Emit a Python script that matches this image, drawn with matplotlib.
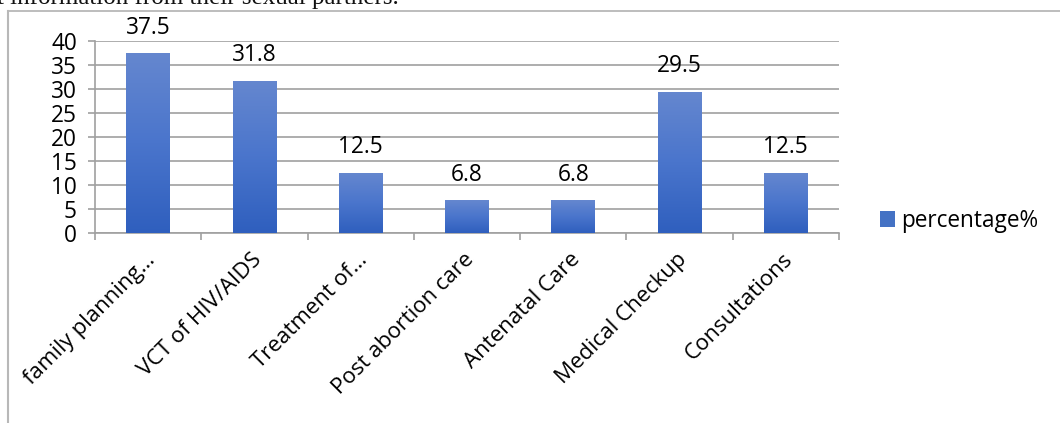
import matplotlib
matplotlib.use("Agg")
import matplotlib.pyplot as plt
import matplotlib.transforms as mtransforms
import numpy as np
from matplotlib.lines import Line2D
from matplotlib.patches import Patch
from matplotlib.colors import LinearSegmentedColormap

categories = ["family planning…", "VCT of HIV/AIDS", "Treatment of…", "Post abortion care",
              "Antenatal Care", "Medical Checkup", "Consultations"]
values = [37.5, 31.8, 12.5, 6.8, 6.8, 29.5, 12.5]
value_labels = ["37.5", "31.8", "12.5", "6.8", "6.8", "29.5", "12.5"]
yticks = [0, 5, 10, 15, 20, 25, 30, 35, 40]
series_name = "percentage%"
caption = "t information from their sexual partners."

W, H = 1060, 423
DPI = 100
FONT = "Open Sans"
FS = 16.3
GRID = "#a0a0a0"

fig = plt.figure(figsize=(W / DPI, H / DPI), dpi=DPI)
fig.patch.set_facecolor("white")

def fx(px):
    return px / W

def fy(py):
    return 1 - py / H

# caption (cropped at the top of the image, as in the source)
fig.text(fx(-3), fy(4.0), caption, family="Liberation Serif", fontsize=18,
         ha="left", va="baseline", color="#111111")

# chart frame lines
fig.add_artist(Line2D([fx(8), fx(1062)], [fy(11.5), fy(11.5)], color="#b8b8b8", lw=1.3))
fig.add_artist(Line2D([fx(8), fx(8)], [fy(11.5), fy(430)], color="#b8b8b8", lw=1.5))

ax = fig.add_axes([fx(95), fy(233), fx(839) - fx(95), fy(41.5) - fy(233)])

x = np.arange(len(categories))
bars = ax.bar(x, values, width=0.41, color="#4472c4", zorder=2)

cmap = LinearSegmentedColormap.from_list("g", ["#2f5fbe", "#4a75cc", "#6587cf"])
grad = np.linspace(0, 1, 256).reshape(-1, 1)
for b in bars:
    x0, y0 = b.get_x(), b.get_y()
    w, h = b.get_width(), b.get_height()
    im = ax.imshow(grad, cmap=cmap, origin="lower", aspect="auto",
                   extent=[x0, x0 + w, y0, y0 + h], zorder=3)
    im.set_clip_path(b)
ax.set_xlim(-0.5, len(categories) - 0.5)
ax.set_ylim(0, 40)

for xi, v, lab in zip(x, values, value_labels):
    ax.annotate(lab, (xi, v), xytext=(0, 10), textcoords="offset points",
                ha="center", va="bottom", family=FONT, fontsize=FS, color="#000000")

ax.set_yticks(yticks)
ax.set_yticklabels([str(t) for t in yticks], family=FONT, fontsize=FS)
ax.yaxis.grid(True, color=GRID, lw=1.2, zorder=0)
ax.set_axisbelow(True)
ax.tick_params(axis="y", length=5, width=1.2, color=GRID, pad=8)

ax.set_xticks(np.arange(len(categories) + 1) - 0.5, minor=True)
ax.set_xticks(x)
ax.set_xticklabels(categories, rotation=45, ha="right", va="center",
                   rotation_mode="anchor", family=FONT, fontsize=16.0)
ax.tick_params(axis="x", which="major", length=0, pad=17)
ax.tick_params(axis="x", which="minor", length=5, width=1.2, color=GRID)
shift = mtransforms.ScaledTranslation(4 / DPI, 0, fig.dpi_scale_trans)
for lbl in ax.get_xticklabels():
    lbl.set_transform(lbl.get_transform() + shift)

for s in ["top", "right"]:
    ax.spines[s].set_visible(False)
ax.spines["left"].set_color(GRID)
ax.spines["bottom"].set_color(GRID)
ax.spines["left"].set_linewidth(1.2)
ax.spines["bottom"].set_linewidth(1.2)

handle = Patch(facecolor="#4472c4", edgecolor="none")
fig.legend([handle], [series_name], loc="center left",
           bbox_to_anchor=(fx(880), fy(221)), frameon=False,
           prop={"family": FONT, "size": FS}, handlelength=0.65, handleheight=0.65,
           handletextpad=0.3, borderaxespad=0, borderpad=0)

fig.savefig("out.png", dpi=DPI, facecolor="white")
